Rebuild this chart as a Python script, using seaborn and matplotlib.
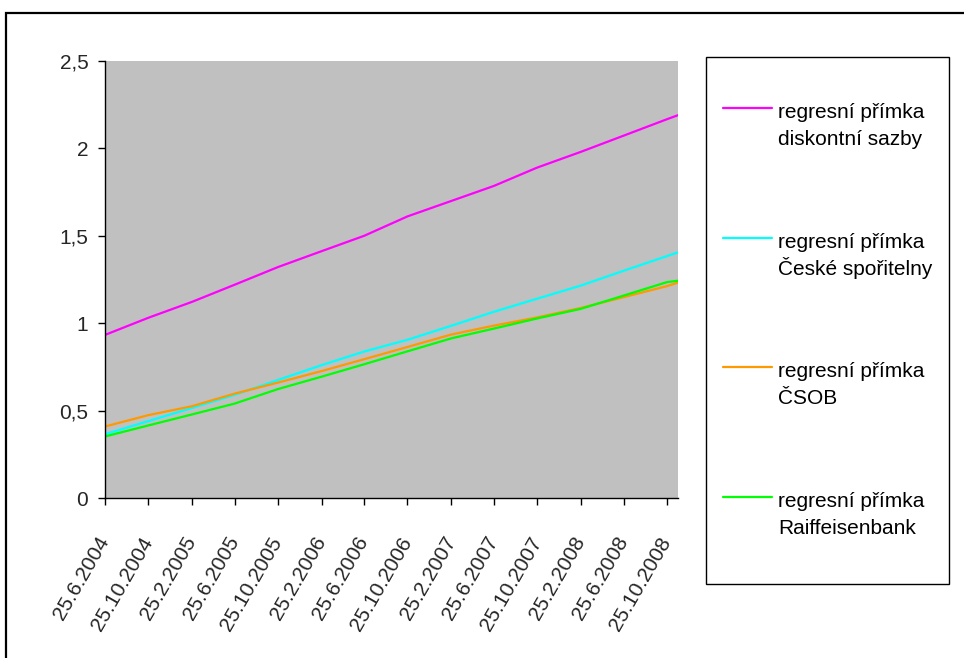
import matplotlib
matplotlib.use("Agg")
import matplotlib.pyplot as plt
from matplotlib.lines import Line2D
from matplotlib.patches import Rectangle
import seaborn as sns
import pandas as pd

# Dates at which the regression lines are sampled (every 4 months + end point)
dates = ["2004-06-25", "2004-10-25", "2005-02-25", "2005-06-25", "2005-10-25",
         "2006-02-25", "2006-06-25", "2006-10-25", "2007-02-25", "2007-06-25",
         "2007-10-25", "2008-02-25", "2008-06-25", "2008-10-25", "2008-11-25"]

diskontni = [0.933, 1.031, 1.122, 1.220, 1.321, 1.412, 1.500, 1.611, 1.699,
             1.785, 1.890, 1.980, 2.073, 2.167, 2.190]
ceska_sporitelna = [0.365, 0.440, 0.515, 0.590, 0.675, 0.760, 0.838, 0.905,
                    0.985, 1.065, 1.140, 1.215, 1.300, 1.384, 1.405]
csob = [0.409, 0.474, 0.525, 0.597, 0.660, 0.726, 0.794, 0.864, 0.935, 0.986,
        1.033, 1.087, 1.149, 1.212, 1.232]
raiffeisen = [0.352, 0.415, 0.478, 0.540, 0.623, 0.694, 0.765, 0.839, 0.913,
              0.969, 1.027, 1.082, 1.158, 1.235, 1.243]

series_names = [("regresní přímka", "diskontní sazby"),
                ("regresní přímka", "České spořitelny"),
                ("regresní přímka", "ČSOB"),
                ("regresní přímka", "Raiffeisenbank")]
series_colors = ["#FF00FF", "#00FFFF", "#FF9900", "#00FF00"]

tick_dates = dates[:-1]
tick_labels = ["25.6.2004", "25.10.2004", "25.2.2005", "25.6.2005", "25.10.2005",
               "25.2.2006", "25.6.2006", "25.10.2006", "25.2.2007", "25.6.2007",
               "25.10.2007", "25.2.2008", "25.6.2008", "25.10.2008"]
y_ticks = [0, 0.5, 1, 1.5, 2, 2.5]
y_tick_labels = ["0", "0,5", "1", "1,5", "2", "2,5"]

sns.set_theme(style="white")
plt.rcParams["font.family"] = ["Liberation Sans", "DejaVu Sans"]

FS = 15
W, H = 964, 658
fig = plt.figure(figsize=(W / 100, H / 100), dpi=100)
fig.patch.set_facecolor("white")


def fx(px):
    return px / W


def fy(py):
    return 1 - py / H


ax = fig.add_axes([fx(105), fy(498), fx(678) - fx(105), fy(61) - fy(498)])
ax.set_facecolor("#C0C0C0")

keys = ["\n".join(n) for n in series_names]
frames = []
for key, vals in zip(keys, [diskontni, ceska_sporitelna, csob, raiffeisen]):
    frames.append(pd.DataFrame({"datum": pd.to_datetime(dates), "hodnota": vals,
                                "rada": key}))
df = pd.concat(frames, ignore_index=True)

sns.lineplot(data=df, x="datum", y="hodnota", hue="rada",
             palette=dict(zip(keys, series_colors)),
             linewidth=1.6, legend=False, ax=ax)

ax.set_xlim(pd.Timestamp(dates[0]), pd.Timestamp(dates[-1]))
ax.set_ylim(0, 2.5)
ax.set_xlabel("")
ax.set_ylabel("")

ax.set_xticks(pd.to_datetime(tick_dates))
ax.set_xticklabels(tick_labels, rotation=60, ha="right", va="center",
                   rotation_mode="anchor", fontsize=FS)
ax.set_yticks(y_ticks)
ax.set_yticklabels(y_tick_labels, fontsize=FS)

ax.tick_params(axis="x", direction="out", length=5, width=1, color="black",
               pad=24, bottom=True)
ax.tick_params(axis="y", direction="out", length=5, width=1, color="black",
               pad=7, left=True)

for side in ["top", "right"]:
    ax.spines[side].set_visible(False)
for side in ["left", "bottom"]:
    ax.spines[side].set_color("black")
    ax.spines[side].set_linewidth(1.0)

# Outer chart frame
fig.add_artist(Rectangle((fx(6), fy(H + 20)), fx(W + 20) - fx(6), fy(13) - fy(H + 20),
                         transform=fig.transFigure, fill=False,
                         edgecolor="black", linewidth=1.6))

# Legend box
fig.add_artist(Rectangle((fx(706), fy(584)), fx(949) - fx(706), fy(57) - fy(584),
                         transform=fig.transFigure, facecolor="white",
                         edgecolor="black", linewidth=1.0))

entry_y = [108, 238, 367, 497]
for (line1, line2), color, yy in zip(series_names, series_colors, entry_y):
    fig.add_artist(Line2D([fx(723), fx(772)], [fy(yy), fy(yy)],
                          transform=fig.transFigure, color=color, linewidth=1.6))
    fig.text(fx(778), fy(yy + 10), line1, ha="left", va="baseline", fontsize=FS,
             color="black")
    fig.text(fx(778), fy(yy + 37), line2, ha="left", va="baseline", fontsize=FS,
             color="black")

fig.savefig("out.png", dpi=100)
